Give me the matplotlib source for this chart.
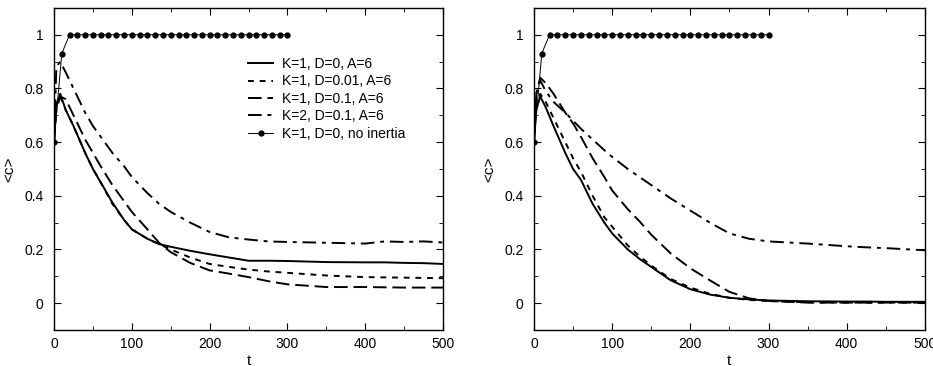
import numpy as np
import matplotlib.pyplot as plt
from matplotlib.ticker import MultipleLocator, FuncFormatter

plt.rcParams['font.family'] = ['Liberation Sans', 'DejaVu Sans']
plt.rcParams['font.size'] = 10

# time grid shared by the inertial curves
t = [0, 3, 8, 15, 25, 40, 50, 60, 75, 90, 100, 120, 135, 150, 175, 200,
     225, 250, 275, 300, 350, 400, 425, 450, 475, 500]

# left panel
left_k1_d0 = [0.60, 0.74, 0.78, 0.72, 0.66, 0.56, 0.50, 0.45, 0.375, 0.31, 0.275, 0.24,
              0.22, 0.21, 0.195, 0.182, 0.17, 0.158, 0.158, 0.157, 0.153, 0.152, 0.152, 0.150, 0.149, 0.146]
left_k1_d001 = [0.60, 0.74, 0.77, 0.72, 0.66, 0.56, 0.50, 0.45, 0.37, 0.31, 0.275, 0.24,
                0.22, 0.20, 0.17, 0.146, 0.135, 0.125, 0.118, 0.113, 0.103, 0.097, 0.096, 0.095, 0.094, 0.093]
left_k1_d01 = [0.60, 0.72, 0.77, 0.76, 0.70, 0.61, 0.56, 0.51, 0.44, 0.38, 0.34, 0.275,
               0.225, 0.19, 0.15, 0.122, 0.11, 0.097, 0.082, 0.07, 0.06, 0.06, 0.059, 0.058, 0.058, 0.058]
left_k2_d01 = [0.60, 0.88, 0.90, 0.86, 0.80, 0.71, 0.66, 0.62, 0.56, 0.51, 0.47, 0.41,
               0.37, 0.34, 0.30, 0.265, 0.245, 0.237, 0.23, 0.228, 0.225, 0.222, 0.23, 0.228, 0.23, 0.226]

# right panel
right_k1_d0 = [0.60, 0.72, 0.77, 0.73, 0.66, 0.56, 0.50, 0.46, 0.37, 0.30, 0.26, 0.20,
               0.165, 0.135, 0.085, 0.052, 0.032, 0.02, 0.014, 0.01, 0.007, 0.006, 0.006, 0.005, 0.005, 0.005]
right_k1_d001 = [0.60, 0.74, 0.78, 0.75, 0.69, 0.60, 0.54, 0.49, 0.40, 0.32, 0.285, 0.215,
                 0.175, 0.14, 0.09, 0.058, 0.035, 0.02, 0.012, 0.008, 0.003, 0.002, 0.002, 0.002, 0.002, 0.002]
right_k1_d01 = [0.60, 0.78, 0.84, 0.82, 0.78, 0.71, 0.67, 0.62, 0.54, 0.47, 0.42, 0.35,
                0.305, 0.255, 0.185, 0.13, 0.085, 0.042, 0.018, 0.008, 0.002, 0.002, 0.002, 0.002, 0.002, 0.002]
right_k2_d01 = [0.60, 0.78, 0.83, 0.79, 0.75, 0.71, 0.68, 0.65, 0.61, 0.57, 0.545, 0.50,
                0.47, 0.44, 0.39, 0.345, 0.30, 0.26, 0.24, 0.23, 0.222, 0.212, 0.208, 0.205, 0.201, 0.197]

# no inertia case (dots)
t_noi = list(range(0, 301, 10))
c_noi = [0.60, 0.93] + [1.0] * 29

labels = ['K=1, D=0, A=6', 'K=1, D=0.01, A=6', 'K=1, D=0.1, A=6',
          'K=2, D=0.1, A=6', 'K=1, D=0, no inertia']

fig = plt.figure(figsize=(9.33, 3.66), dpi=100)
ax1 = fig.add_axes([0.0579, 0.0984, 0.417, 0.880])
ax2 = fig.add_axes([0.5723, 0.0984, 0.419, 0.880])

fmt = FuncFormatter(lambda v, p: '%g' % round(v, 3))

for ax, curves in [(ax1, [left_k1_d0, left_k1_d001, left_k1_d01, left_k2_d01]),
                   (ax2, [right_k1_d0, right_k1_d001, right_k1_d01, right_k2_d01])]:
    ax.plot(t, curves[0], color='black', lw=1.4, label=labels[0])
    ax.plot(t, curves[1], color='black', lw=1.4, dashes=(3, 3), label=labels[1])
    ax.plot(t, curves[2], color='black', lw=1.4, dashes=(7, 3), label=labels[2])
    ax.plot(t, curves[3], color='black', lw=1.4, dashes=(7, 3, 2, 3), label=labels[3])
    ax.plot(t_noi, c_noi, color='black', lw=0.7, marker='o', ms=3.5, label=labels[4])

    ax.set_xlim(0, 500)
    ax.set_ylim(-0.1, 1.1)
    ax.xaxis.set_major_locator(MultipleLocator(100))
    ax.xaxis.set_minor_locator(MultipleLocator(50))
    ax.yaxis.set_major_locator(MultipleLocator(0.2))
    ax.yaxis.set_minor_locator(MultipleLocator(0.1))
    ax.xaxis.set_major_formatter(fmt)
    ax.yaxis.set_major_formatter(fmt)
    ax.tick_params(which='both', direction='in', top=True, right=True, labelsize=10)
    ax.tick_params(which='major', length=5)
    ax.tick_params(which='minor', length=3)
    ax.tick_params(axis='y', pad=7.5)
    ax.tick_params(axis='x', pad=5)
    for s in ax.spines.values():
        s.set_linewidth(1.0)
    ax.set_xlabel('t', fontsize=11, labelpad=2)
    ax.set_ylabel('<c>', fontsize=11, labelpad=6)

ax1.legend(loc='upper left', bbox_to_anchor=(0.485, 0.865), frameon=False,
           handlelength=1.8, handletextpad=0.6, labelspacing=0.25, fontsize=10,
           borderaxespad=0)

fig.savefig('out.png', dpi=100)
